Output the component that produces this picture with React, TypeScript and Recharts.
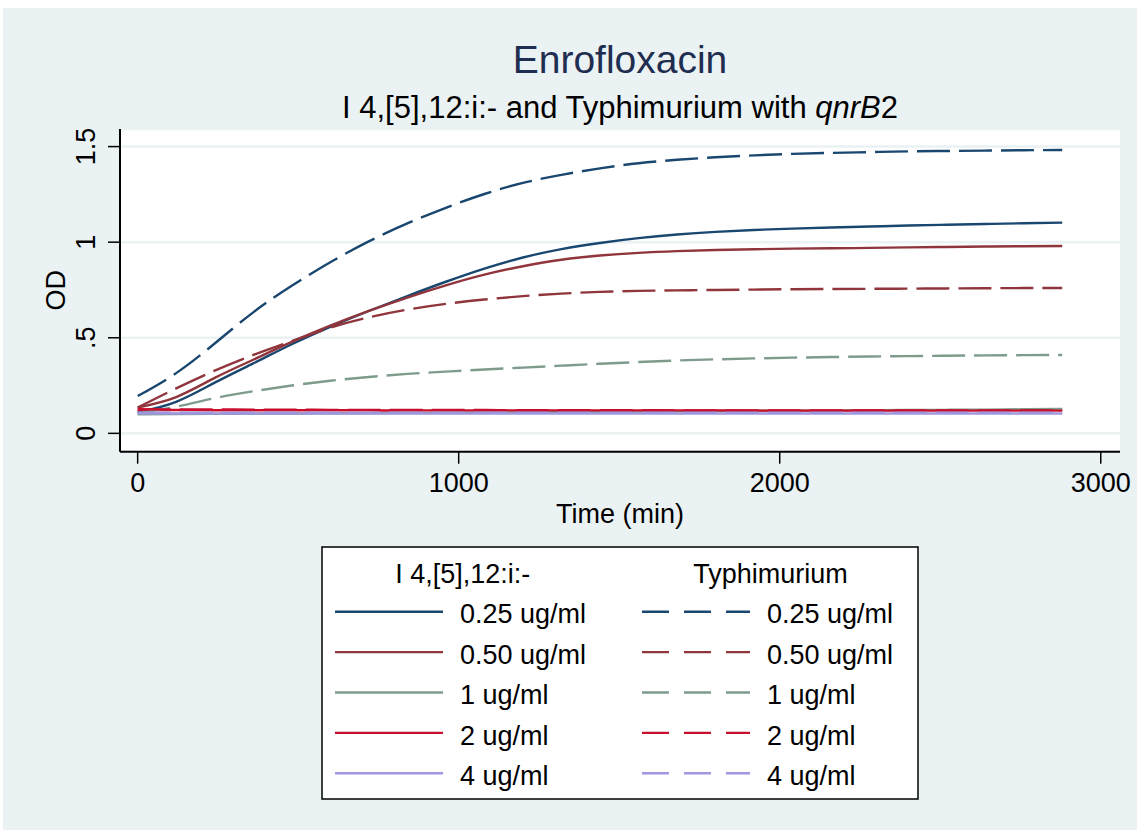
import React from 'react';
import { LineChart, Line, XAxis, YAxis, CartesianGrid } from 'recharts';

const FONT = '"Liberation Sans", Arial, Helvetica, sans-serif';

// readings every 120 min, 0 .. 2880
const TIME = [0, 120, 240, 360, 480, 600, 720, 840, 960, 1080, 1200, 1320, 1440, 1560, 1680, 1800, 1920, 2040, 2160, 2280, 2400, 2520, 2640, 2760, 2880];

// I 4,[5],12:i:- (solid lines)
const I4_025 = [0.11, 0.165, 0.265, 0.366, 0.466, 0.557, 0.64, 0.718, 0.793, 0.862, 0.92, 0.964, 0.996, 1.021, 1.04, 1.054, 1.064, 1.071, 1.077, 1.082, 1.087, 1.091, 1.095, 1.099, 1.102];
const I4_050 = [0.135, 0.19, 0.29, 0.385, 0.478, 0.563, 0.64, 0.71, 0.774, 0.83, 0.874, 0.908, 0.93, 0.944, 0.953, 0.959, 0.963, 0.966, 0.968, 0.97, 0.973, 0.975, 0.977, 0.979, 0.98];
const I4_1 = [0.1, 0.101, 0.102, 0.103, 0.104, 0.105, 0.106, 0.107, 0.108, 0.109, 0.11, 0.111, 0.113, 0.114, 0.115, 0.117, 0.118, 0.119, 0.12, 0.121, 0.122, 0.123, 0.124, 0.126, 0.127];
const I4_2 = [0.122, 0.122, 0.121, 0.121, 0.121, 0.121, 0.12, 0.12, 0.12, 0.12, 0.12, 0.12, 0.12, 0.12, 0.12, 0.12, 0.119, 0.119, 0.119, 0.119, 0.119, 0.119, 0.119, 0.119, 0.119];
const I4_4 = [0.104, 0.104, 0.104, 0.104, 0.104, 0.104, 0.104, 0.104, 0.104, 0.104, 0.104, 0.104, 0.104, 0.104, 0.104, 0.104, 0.104, 0.104, 0.104, 0.104, 0.104, 0.104, 0.104, 0.104, 0.104];

// Typhimurium (dashed lines)
const TY_025 = [0.195, 0.315, 0.47, 0.633, 0.772, 0.895, 1.004, 1.098, 1.18, 1.252, 1.31, 1.352, 1.386, 1.413, 1.431, 1.444, 1.454, 1.462, 1.467, 1.471, 1.475, 1.477, 1.479, 1.481, 1.482];
const TY_050 = [0.135, 0.235, 0.328, 0.41, 0.482, 0.553, 0.607, 0.647, 0.677, 0.7, 0.718, 0.731, 0.74, 0.745, 0.748, 0.75, 0.752, 0.754, 0.755, 0.756, 0.757, 0.758, 0.759, 0.76, 0.76];
const TY_1 = [0.105, 0.139, 0.184, 0.22, 0.25, 0.275, 0.295, 0.311, 0.323, 0.334, 0.344, 0.354, 0.364, 0.373, 0.381, 0.387, 0.392, 0.396, 0.399, 0.402, 0.404, 0.406, 0.408, 0.409, 0.41];
const TY_2 = [0.126, 0.125, 0.125, 0.124, 0.124, 0.123, 0.123, 0.122, 0.122, 0.122, 0.121, 0.121, 0.121, 0.121, 0.12, 0.12, 0.12, 0.12, 0.12, 0.12, 0.12, 0.12, 0.12, 0.12, 0.12];
const TY_4 = [0.108, 0.108, 0.108, 0.108, 0.108, 0.108, 0.108, 0.108, 0.108, 0.108, 0.108, 0.108, 0.108, 0.108, 0.108, 0.108, 0.108, 0.108, 0.108, 0.108, 0.108, 0.108, 0.108, 0.108, 0.108];

const CONC_LABELS = ['0.25 ug/ml', '0.50 ug/ml', '1 ug/ml', '2 ug/ml', '4 ug/ml'];
const COLORS = ['#1a476f', '#90353b', '#7d9c8c', '#c8102e', '#9e97de'];

const X_TICKS = [0, 1000, 2000, 3000];
const Y_TICKS = [0, 0.5, 1, 1.5];
const Y_TICK_LABELS = ['0', '.5', '1', '1.5'];

const I4_SERIES = [I4_025, I4_050, I4_1, I4_2, I4_4];
const TY_SERIES = [TY_025, TY_050, TY_1, TY_2, TY_4];

const data = TIME.map((t, i) => {
  const row: Record<string, number> = { t };
  I4_SERIES.forEach((s, k) => (row[`i4_${k}`] = s[i]));
  TY_SERIES.forEach((s, k) => (row[`ty_${k}`] = s[i]));
  return row;
});

const W = 1144;
const H = 835;
const PLOT = { left: 120, right: 1120, top: 129, bottom: 451.7 };

const YTick = ({ y, payload }: any) => {
  const idx = Y_TICKS.indexOf(payload.value);
  return (
    <text
      x={95}
      y={y}
      transform={`rotate(-90 95 ${y})`}
      textAnchor="middle"
      fontSize={27}
      fontFamily={FONT}
      fill="#000"
    >
      {idx >= 0 ? Y_TICK_LABELS[idx] : payload.value}
    </text>
  );
};

const XTick = ({ x, payload }: any) => (
  <text x={x} y={492} textAnchor="middle" fontSize={27} fontFamily={FONT} fill="#000">
    {payload.value}
  </text>
);

function LegendBox() {
  const rowY = (i: number) => 611.7 + i * 40.4;
  return (
    <g fontFamily={FONT} fontSize={27} fill="#000">
      <rect x={322} y={547} width={596} height={252} fill="#fff" stroke="#000" strokeWidth={1.5} />
      <text x={462.7} y={582.6} textAnchor="middle">I 4,[5],12:i:-</text>
      <text x={770.6} y={582.6} textAnchor="middle">Typhimurium</text>
      {CONC_LABELS.map((label, i) => (
        <g key={label}>
          <line x1={335} x2={443} y1={rowY(i)} y2={rowY(i)} stroke={COLORS[i]} strokeWidth={2.4} />
          <text x={460} y={rowY(i) + 11.6}>{label}</text>
          <line
            x1={642}
            x2={750}
            y1={rowY(i)}
            y2={rowY(i)}
            stroke={COLORS[i]}
            strokeWidth={2.4}
            strokeDasharray="27 15"
          />
          <text x={767} y={rowY(i) + 11.6}>{label}</text>
        </g>
      ))}
    </g>
  );
}

export default function App() {
  const cx = (PLOT.left + PLOT.right) / 2;
  const cy = (PLOT.top + PLOT.bottom) / 2;
  return (
    <div style={{ position: 'absolute', left: 0, top: 0, width: W, height: H, background: '#fff' }}>
      <div style={{ position: 'absolute', left: 3, top: 8, width: 1134, height: 822, background: '#eaf2f3' }} />
      <div style={{ position: 'absolute', left: 0, top: 0 }}>
        <LineChart
          width={W}
          height={H}
          data={data}
          margin={{ top: PLOT.top, right: W - PLOT.right, left: PLOT.left - 60, bottom: H - PLOT.bottom - 40 }}
        >
          <CartesianGrid vertical={false} stroke="#eaf2f3" strokeWidth={2.5} fill="#ffffff" fillOpacity={1} />
          <XAxis
            dataKey="t"
            type="number"
            domain={[-55, 3060]}
            ticks={X_TICKS}
            allowDataOverflow
            height={40}
            tickSize={12}
            tick={<XTick />}
            axisLine={{ stroke: '#000', strokeWidth: 2 }}
            tickLine={{ stroke: '#000', strokeWidth: 1.5 }}
          />
          <YAxis
            type="number"
            domain={[-0.096, 1.592]}
            ticks={Y_TICKS}
            allowDataOverflow
            width={60}
            tickSize={12}
            tick={<YTick />}
            axisLine={{ stroke: '#000', strokeWidth: 2 }}
            tickLine={{ stroke: '#000', strokeWidth: 1.5 }}
          />
          {I4_SERIES.map((_, k) => (
            <Line
              key={`i4_${k}`}
              dataKey={`i4_${k}`}
              type="natural"
              stroke={COLORS[k]}
              strokeWidth={2.4}
              dot={false}
              activeDot={false}
              isAnimationActive={false}
            />
          ))}
          {TY_SERIES.map((_, k) => (
            <Line
              key={`ty_${k}`}
              dataKey={`ty_${k}`}
              type="natural"
              stroke={COLORS[k]}
              strokeWidth={2.4}
              strokeDasharray="33 9"
              dot={false}
              activeDot={false}
              isAnimationActive={false}
            />
          ))}
        </LineChart>
      </div>
      <svg
        width={W}
        height={H}
        style={{ position: 'absolute', left: 0, top: 0, pointerEvents: 'none' }}
      >
        <text x={cx} y={72.7} textAnchor="middle" fontSize={39} fontFamily={FONT} fill="#1f2d50">
          Enrofloxacin
        </text>
        <text x={cx} y={118.3} textAnchor="middle" fontSize={31} fontFamily={FONT} fill="#000">
          I 4,[5],12:i:- and Typhimurium with <tspan fontStyle="italic">qnrB</tspan>2
        </text>
        <text x={cx} y={522.5} textAnchor="middle" fontSize={27} fontFamily={FONT} fill="#000">
          Time (min)
        </text>
        <text
          x={65}
          y={cy}
          transform={`rotate(-90 65 ${cy})`}
          textAnchor="middle"
          fontSize={27}
          fontFamily={FONT}
          fill="#000"
        >
          OD
        </text>
        <LegendBox />
      </svg>
    </div>
  );
}
